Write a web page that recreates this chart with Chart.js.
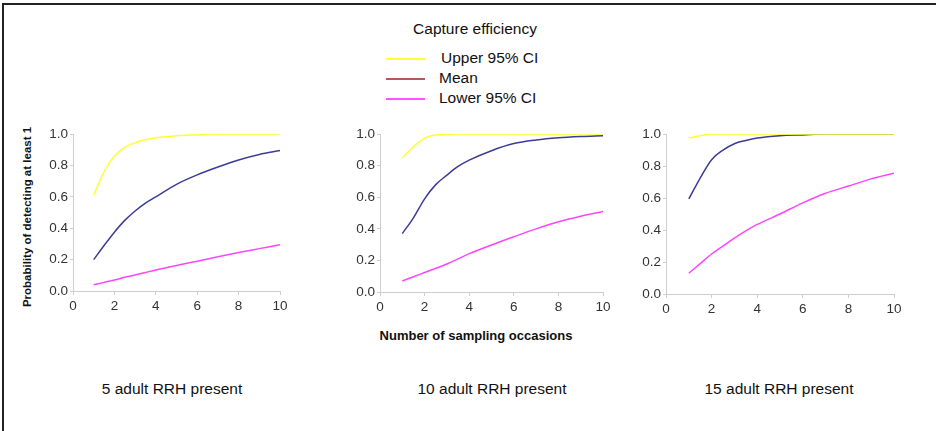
<!DOCTYPE html>
<html>
<head>
  <meta charset="UTF-8">
  <title>Capture efficiency</title>
  <script src="https://cdn.jsdelivr.net/npm/chart.js"></script>
  <style>
    body { margin: 0; width: 936px; height: 431px; background: #fff; overflow: hidden;
           font-family: "Liberation Sans", Arial, sans-serif; color: #111; position: relative; }
    .frame { position: absolute; left: 2px; top: 3px; width: 960px; height: 440px;
             border-top: 2px solid #222; border-left: 2px solid #222; }
    canvas { position: absolute; }
    .txt { position: absolute; white-space: nowrap; }
    .legend-line { position: absolute; width: 39px; height: 2px; }
    .title { font-size: 15.5px; transform: translateX(-50%); }
    .bold { font-weight: bold; font-size: 11.5px; }
  </style>
</head>
<body>
  <div class="frame"></div>

  <div class="txt title" style="left:475px; top:20px;">Capture efficiency</div>
  <div class="legend-line" style="left:386px; top:58px; background:#ffff40;"></div>
  <div class="txt" style="left:441px; top:49px; font-size:15.5px;">Upper 95% CI</div>
  <div class="legend-line" style="left:386px; top:78px; background:#b05a5a;"></div>
  <div class="txt" style="left:439px; top:69px; font-size:15.5px;">Mean</div>
  <div class="legend-line" style="left:386px; top:98px; background:#ff55ff;"></div>
  <div class="txt" style="left:439px; top:89px; font-size:15.5px;">Lower 95% CI</div>

  <canvas id="c5"></canvas>
  <canvas id="c10"></canvas>
  <canvas id="c15"></canvas>

  <div class="txt bold" style="left:27px; top:217px; transform:translate(-50%,-50%) rotate(-90deg);">Probability of detecting at least 1</div>
  <div class="txt bold" style="left:476px; top:328px; font-size:13px; transform:translateX(-50%);">Number of sampling occasions</div>

  <div class="txt title" style="left:172px; top:380px;">5 adult RRH present</div>
  <div class="txt title" style="left:492px; top:380px;">10 adult RRH present</div>
  <div class="txt title" style="left:779px; top:380px;">15 adult RRH present</div>

  <script>
    // sampling occasions
    const occasions = [1, 1.5, 2, 2.5, 3, 3.5, 4, 5, 6, 7, 8, 9, 10];

    // 5 adult RRH present
    const upper5 = [0.61, 0.76, 0.86, 0.915, 0.945, 0.965, 0.977, 0.99, 0.995, 1.0, 1.0, 1.0, 1.0];
    const mean5  = [0.20, 0.29, 0.375, 0.45, 0.51, 0.56, 0.60, 0.68, 0.74, 0.79, 0.835, 0.87, 0.895];
    const lower5 = [0.04, 0.055, 0.07, 0.087, 0.102, 0.118, 0.134, 0.163, 0.19, 0.218, 0.245, 0.27, 0.295];

    // 10 adult RRH present
    const upper10 = [0.85, 0.92, 0.975, 0.995, 0.997, 1.0, 1.0, 1.0, 1.0, 1.0, 1.0, 1.0, 1.0];
    const mean10  = [0.37, 0.47, 0.59, 0.68, 0.74, 0.795, 0.835, 0.895, 0.94, 0.963, 0.977, 0.985, 0.99];
    const lower10 = [0.07, 0.097, 0.123, 0.15, 0.177, 0.21, 0.243, 0.298, 0.35, 0.40, 0.445, 0.48, 0.51];

    // 15 adult RRH present
    const upper15 = [0.975, 0.99, 1.0, 1.0, 1.0, 1.0, 1.0, 1.0, 1.0, 1.0, 1.0, 1.0, 1.0];
    const mean15  = [0.595, 0.725, 0.84, 0.90, 0.94, 0.96, 0.975, 0.99, 0.995, 1.0, 1.0, 1.0, 1.0];
    const lower15 = [0.13, 0.19, 0.25, 0.30, 0.35, 0.395, 0.435, 0.50, 0.57, 0.63, 0.675, 0.72, 0.755];

    const xTicks = [0, 2, 4, 6, 8, 10];
    const yTicks = [0.0, 0.2, 0.4, 0.6, 0.8, 1.0];

    const Y_W = 40, PAD_T = 10, PAD_R = 15, X_H = 30;

    function pts(vals) {
      return occasions.map((x, i) => ({ x: x, y: vals[i] }));
    }

    // area = plot area in page pixels: left, right, top, bottom
    function makePanel(id, area, upper, mean, lower) {
      const cv = document.getElementById(id);
      cv.width = Y_W + (area[1] - area[0]) + PAD_R;
      cv.height = PAD_T + (area[3] - area[2]) + X_H;
      cv.style.left = (area[0] - Y_W) + 'px';
      cv.style.top = (area[2] - PAD_T) + 'px';

      const line = (data, color) => ({
        data: pts(data), borderColor: color, borderWidth: 1.5,
        pointRadius: 0, fill: false, cubicInterpolationMode: 'monotone'
      });
      const tickFont = { family: '"Liberation Sans", Arial, sans-serif', size: 13.5 };

      new Chart(cv, {
        type: 'line',
        data: {
          datasets: [
            line(upper, '#ffff33'),
            line(mean, '#3c3c96'),
            line(lower, '#ff44ff')
          ]
        },
        options: {
          responsive: false,
          animation: false,
          devicePixelRatio: 1,
          layout: { padding: { top: PAD_T, right: PAD_R, left: 0, bottom: 0 } },
          plugins: { legend: { display: false }, tooltip: { enabled: false } },
          scales: {
            x: {
              type: 'linear', min: 0, max: 10,
              afterBuildTicks: s => { s.ticks = xTicks.map(v => ({ value: v })); },
              afterFit: s => { s.height = X_H; },
              ticks: { font: tickFont, color: '#333', padding: 3, maxRotation: 0 },
              grid: { drawOnChartArea: false, drawTicks: true, tickLength: 4, color: '#cfcfcf' },
              border: { color: '#cfcfcf' }
            },
            y: {
              min: 0, max: 1,
              afterBuildTicks: s => { s.ticks = yTicks.map(v => ({ value: v })); },
              afterFit: s => { s.width = Y_W; },
              ticks: { font: tickFont, color: '#333', padding: 2, callback: v => v.toFixed(1) },
              grid: { drawOnChartArea: false, drawTicks: true, tickLength: 3, color: '#cfcfcf' },
              border: { color: '#cfcfcf' }
            }
          }
        }
      });
    }

    makePanel('c5',  [73, 280, 134, 291], upper5, mean5, lower5);
    makePanel('c10', [380, 603, 134, 292], upper10, mean10, lower10);
    makePanel('c15', [666, 894, 134, 294], upper15, mean15, lower15);
  </script>
</body>
</html>
